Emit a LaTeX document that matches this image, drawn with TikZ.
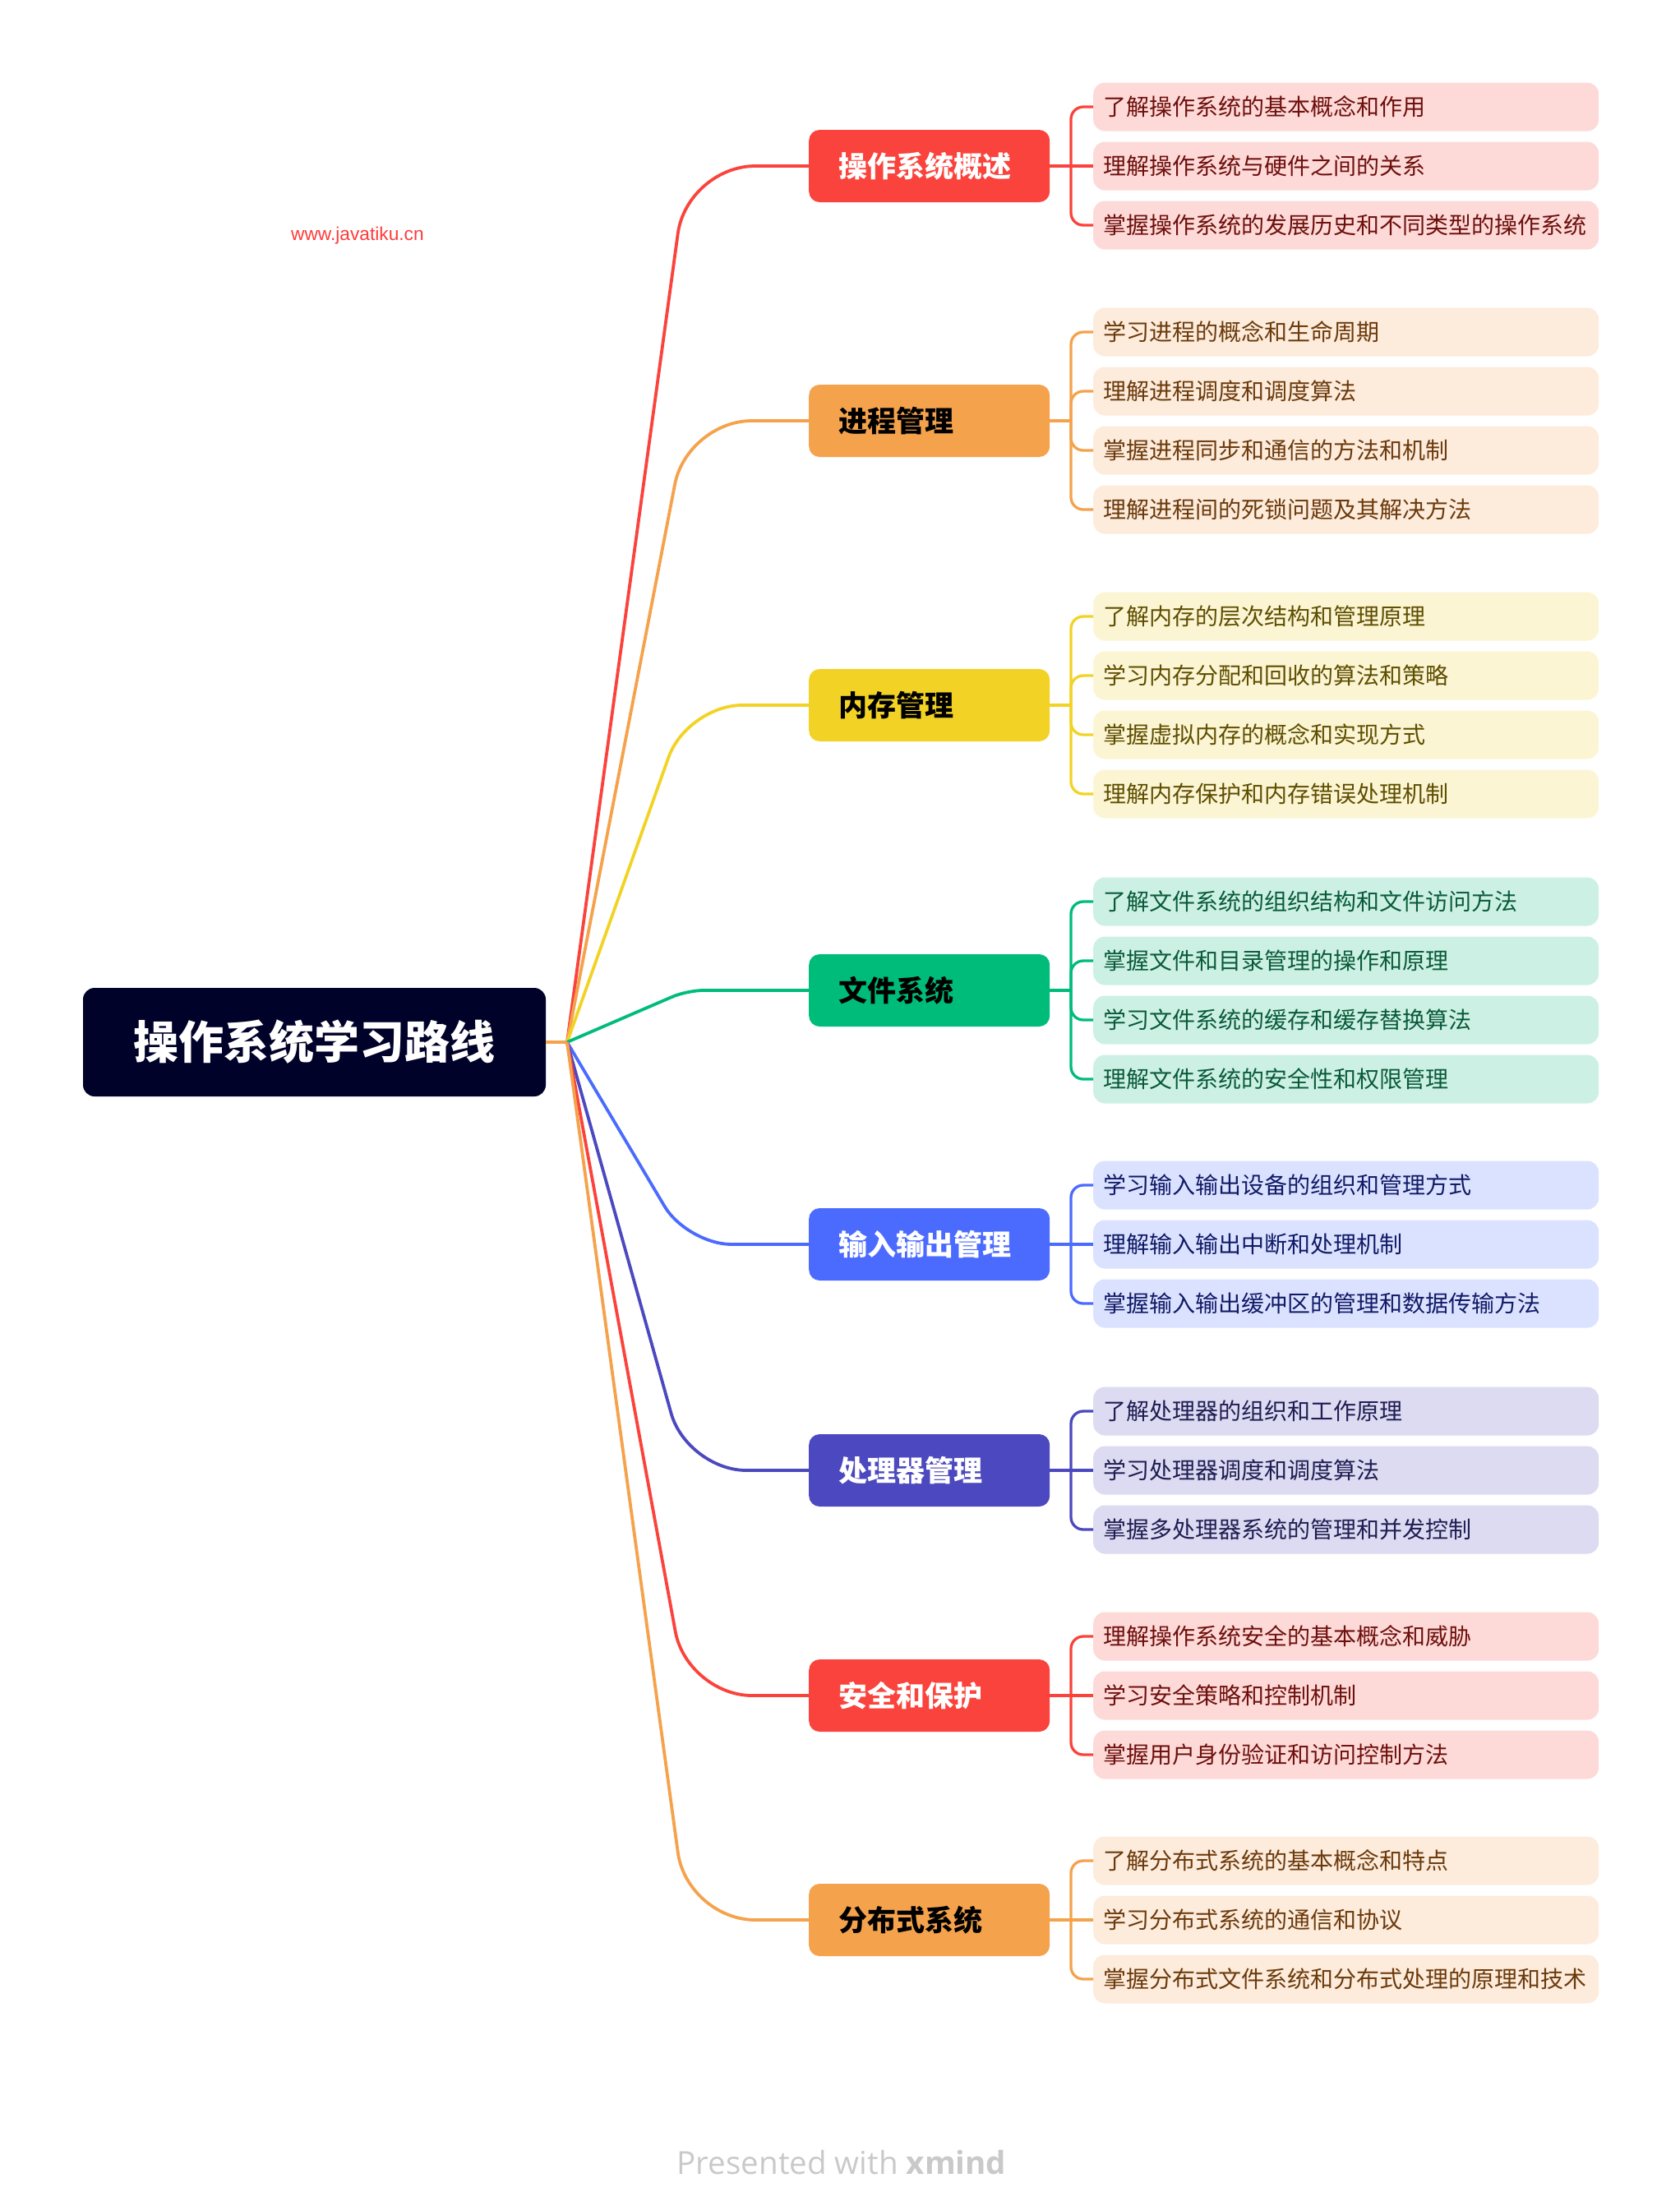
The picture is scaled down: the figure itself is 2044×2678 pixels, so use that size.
\documentclass[tikz,border=0pt]{standalone}
\usepackage{fontspec}
\setmainfont{Noto Sans CJK SC}
\newfontfamily\webfont{Liberation Sans}
\newfontfamily\footfont{Open Sans}
\usepackage{tikz}

\definecolor{rootnavy}{HTML}{01022A}
\definecolor{redmain}{HTML}{FA433C}
\definecolor{redsoft}{HTML}{FDDAD8}
\definecolor{reddark}{HTML}{6E0F0C}
\definecolor{orangemain}{HTML}{F5A24C}
\definecolor{orangesoft}{HTML}{FDEBDB}
\definecolor{orangedark}{HTML}{6B3A0C}
\definecolor{yellowmain}{HTML}{F2D325}
\definecolor{yellowsoft}{HTML}{FCF5D4}
\definecolor{yellowdark}{HTML}{5E4E00}
\definecolor{greenmain}{HTML}{00BC7B}
\definecolor{greensoft}{HTML}{CCF1E4}
\definecolor{greendark}{HTML}{0A5A3A}
\definecolor{bluemain}{HTML}{4B6BFF}
\definecolor{bluesoft}{HTML}{DBE2FF}
\definecolor{bluedark}{HTML}{101A66}
\definecolor{indigomain}{HTML}{4C48BF}
\definecolor{indigosoft}{HTML}{DCDBF1}
\definecolor{indigodark}{HTML}{1F1D52}
\definecolor{webred}{HTML}{FF3A3A}
\definecolor{footgray}{HTML}{C9C9C9}

\tikzset{
  rootbox/.style={fill=rootnavy, text=white, rounded corners=14pt,
    minimum width=563pt, minimum height=132pt, inner sep=0pt,
    font=\bfseries\fontsize{55}{60}\selectfont, text height=45.6pt, text depth=3.9pt},
  topic/.style={fill=#1main, anchor=west, rounded corners=13pt,
    minimum height=88pt, inner xsep=36pt, inner ysep=0pt, text width=221pt, align=left,
    font=\bfseries\fontsize{35}{40}\selectfont, text height=29pt, text depth=2.5pt},
  leaf/.style={fill=#1soft, text=#1dark, anchor=west, rounded corners=14pt,
    minimum height=59pt, inner xsep=12pt, inner ysep=0pt, text width=591pt, align=left,
    font=\fontsize{28}{32}\selectfont, text height=23.2pt, text depth=2pt},
  branchline/.style={draw=#1main, line width=3.8pt},
  twig/.style={draw=#1main, line width=3.3pt},
}

\begin{document}
\begin{tikzpicture}[x=1pt, y=-1pt]
  \useasboundingbox (0,0) rectangle (2044,2678);

  % Root
  \node[rootbox] (root) at (382.5,1268) {操作系统学习路线};
  \coordinate (hub) at (690,1268);
  \coordinate (bend) at (836,1268);
  \coordinate (bar) at (1303,0);

  % Topics
  \node[topic=red, text=white] (t1) at (984,202) {操作系统概述};
  \node[topic=orange, text=black] (t2) at (984,512) {进程管理};
  \node[topic=yellow, text=black] (t3) at (984,858) {内存管理};
  \node[topic=green, text=black] (t4) at (984,1205) {文件系统};
  \node[topic=blue, text=white] (t5) at (984,1514) {输入输出管理};
  \node[topic=indigo, text=white] (t6) at (984,1789) {处理器管理};
  \node[topic=red, text=white] (t7) at (984,2063) {安全和保护};
  \node[topic=orange, text=black] (t8) at (984,2336) {分布式系统};

  % Leaves
  \node[leaf=red] (t1a) at (1330,130) {了解操作系统的基本概念和作用};
  \node[leaf=red] (t1b) at (1330,202) {理解操作系统与硬件之间的关系};
  \node[leaf=red] (t1c) at (1330,274) {掌握操作系统的发展历史和不同类型的操作系统};

  \node[leaf=orange] (t2a) at (1330,404) {学习进程的概念和生命周期};
  \node[leaf=orange] (t2b) at (1330,476) {理解进程调度和调度算法};
  \node[leaf=orange] (t2c) at (1330,548) {掌握进程同步和通信的方法和机制};
  \node[leaf=orange] (t2d) at (1330,620) {理解进程间的死锁问题及其解决方法};

  \node[leaf=yellow] (t3a) at (1330,750) {了解内存的层次结构和管理原理};
  \node[leaf=yellow] (t3b) at (1330,822) {学习内存分配和回收的算法和策略};
  \node[leaf=yellow] (t3c) at (1330,894) {掌握虚拟内存的概念和实现方式};
  \node[leaf=yellow] (t3d) at (1330,966) {理解内存保护和内存错误处理机制};

  \node[leaf=green] (t4a) at (1330,1097) {了解文件系统的组织结构和文件访问方法};
  \node[leaf=green] (t4b) at (1330,1169) {掌握文件和目录管理的操作和原理};
  \node[leaf=green] (t4c) at (1330,1241) {学习文件系统的缓存和缓存替换算法};
  \node[leaf=green] (t4d) at (1330,1313) {理解文件系统的安全性和权限管理};

  \node[leaf=blue] (t5a) at (1330,1442) {学习输入输出设备的组织和管理方式};
  \node[leaf=blue] (t5b) at (1330,1514) {理解输入输出中断和处理机制};
  \node[leaf=blue] (t5c) at (1330,1586) {掌握输入输出缓冲区的管理和数据传输方法};

  \node[leaf=indigo] (t6a) at (1330,1717) {了解处理器的组织和工作原理};
  \node[leaf=indigo] (t6b) at (1330,1789) {学习处理器调度和调度算法};
  \node[leaf=indigo] (t6c) at (1330,1861) {掌握多处理器系统的管理和并发控制};

  \node[leaf=red] (t7a) at (1330,1991) {理解操作系统安全的基本概念和威胁};
  \node[leaf=red] (t7b) at (1330,2063) {学习安全策略和控制机制};
  \node[leaf=red] (t7c) at (1330,2135) {掌握用户身份验证和访问控制方法};

  \node[leaf=orange] (t8a) at (1330,2264) {了解分布式系统的基本概念和特点};
  \node[leaf=orange] (t8b) at (1330,2336) {学习分布式系统的通信和协议};
  \node[leaf=orange] (t8c) at (1330,2408) {掌握分布式文件系统和分布式处理的原理和技术};

  % Root to topics
  \draw[line width=3.8pt, orangemain] (root.east) -- (hub);
  \foreach \tp/\col/\dy in {t1/red/1066, t2/orange/756, t3/yellow/410, t4/green/63,
                            t5/blue/246, t6/indigo/521, t7/red/795, t8/orange/1068}{
    \pgfmathsetmacro\rr{95*tan(atan2(\dy,146)/2)}
    \draw[branchline=\col, rounded corners=\rr pt] (hub) -- (bend |- \tp.west) -- (\tp.west);
  }

  % Topics to leaves
  \foreach \tp/\col/\ls in {t1/red/{t1a,t1c}, t2/orange/{t2a,t2b,t2c,t2d},
                            t3/yellow/{t3a,t3b,t3c,t3d}, t4/green/{t4a,t4b,t4c,t4d},
                            t5/blue/{t5a,t5c}, t6/indigo/{t6a,t6c},
                            t7/red/{t7a,t7c}, t8/orange/{t8a,t8c}}{
    \draw[twig=\col] (\tp.east) -- (bar |- \tp.east);
    \foreach \lf in \ls
      \draw[twig=\col, rounded corners=15pt] (bar |- \tp.east) |- (\lf.west);
  }
  \foreach \tp/\col in {t1/red, t5/blue, t6/indigo, t7/red, t8/orange}
    \draw[twig=\col] (\tp.east) -- (\tp b.west);

  % Watermark and footer
  \node[anchor=base west, inner sep=0pt, text=webred, font=\webfont\fontsize{22.7}{26}\selectfont]
    (site) at (354,292) {www.javatiku.cn};
  \node[anchor=base, inner sep=0pt, text=footgray, font=\footfont\fontsize{38.5}{44}\selectfont]
    (foot) at (1024,2645) {Presented with \textbf{xmind}};
\end{tikzpicture}
\end{document}
